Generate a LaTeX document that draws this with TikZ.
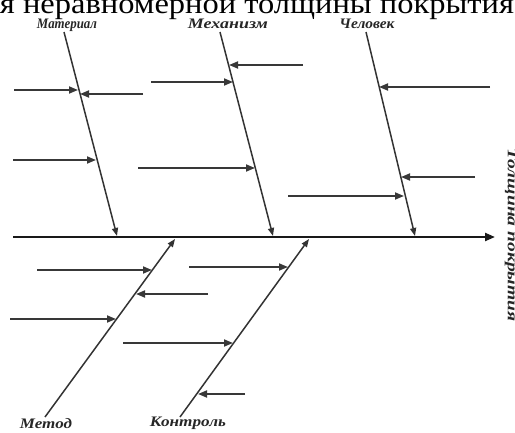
\documentclass[tikz,border=0pt]{standalone}
\usepackage{fontspec}
\setmainfont{Liberation Serif}
\usetikzlibrary{arrows.meta}
\newcommand{\lblw}[2]{\resizebox{#1}{\height}{#2}}
\begin{document}
\begin{tikzpicture}[x=1pt,y=-1pt,
  spine/.style={line width=2.2pt,draw=black!90,-{Triangle[length=10pt,width=8pt]}},
  cause/.style={line width=1.5pt,draw=black!80,-{Triangle[length=8pt,width=6pt]}},
  sub/.style={line width=1.7pt,draw=black!78,-{Triangle[length=9pt,width=7pt]}},
  lab/.style={font=\fontsize{14.5}{16}\selectfont\bfseries\itshape,inner sep=0pt,text=black!85}]
\useasboundingbox (0,0) rectangle (515,432);
% title (cut off at top)
\node[font=\fontsize{29}{32}\selectfont,anchor=base,inner sep=0pt] (title) at (257,13) {\lblw{514pt}{я неравномерной толщины покрытия}};
% effect label
\node[lab,rotate=-90,anchor=center] (eff) at (511,235) {\scalebox{1.35}[1]{Толщина покрытия}};
% spine
\coordinate (s0) at (13,237);
\coordinate (s1) at (495,237);
\draw[spine] (s0) -- (s1);
% category labels
\node[lab,anchor=base] (mat) at (67,28) {\lblw{60pt}{Материал}};
\node[lab,anchor=base] (mech) at (228,28) {\lblw{80pt}{Механизм}};
\node[lab,anchor=base] (man) at (367,28) {\lblw{55pt}{Человек}};
\node[lab,anchor=base] (met) at (46,428) {\lblw{52pt}{Метод}};
\node[lab,anchor=base] (ctl) at (188,426) {\lblw{76pt}{Контроль}};
% bones
\coordinate (matT) at (64,32);   \coordinate (matB) at (117,236);
\coordinate (mechT) at (220,32); \coordinate (mechB) at (273,236);
\coordinate (manT) at (366,32);  \coordinate (manB) at (415,236);
\coordinate (metB) at (45,417);  \coordinate (metT) at (175,239);
\coordinate (ctlB) at (180,417); \coordinate (ctlT) at (309,239);
\draw[cause] (matT) -- (matB);
\draw[cause] (mechT) -- (mechB);
\draw[cause] (manT) -- (manB);
\draw[cause] (metB) -- (metT);
\draw[cause] (ctlB) -- (ctlT);
% sub-cause arrows
\coordinate (a1s) at (14,90);   \coordinate (a1e) at (78,90);
\coordinate (a2s) at (143,94);  \coordinate (a2e) at (80,94);
\coordinate (a3s) at (13,160);  \coordinate (a3e) at (96,160);
\coordinate (a4s) at (151,82);  \coordinate (a4e) at (233,82);
\coordinate (a5s) at (303,65);  \coordinate (a5e) at (229,65);
\coordinate (a6s) at (138,168); \coordinate (a6e) at (255,168);
\coordinate (a7s) at (490,87);  \coordinate (a7e) at (379,87);
\coordinate (a8s) at (475,177); \coordinate (a8e) at (401,177);
\coordinate (a9s) at (288,196); \coordinate (a9e) at (404,196);
\coordinate (b1s) at (37,270);  \coordinate (b1e) at (152,270);
\coordinate (b2s) at (208,294); \coordinate (b2e) at (136,294);
\coordinate (b3s) at (10,319);  \coordinate (b3e) at (116,319);
\coordinate (b4s) at (189,267); \coordinate (b4e) at (288,267);
\coordinate (b5s) at (123,343); \coordinate (b5e) at (233,343);
\coordinate (b6s) at (245,394); \coordinate (b6e) at (198,394);
\foreach \a in {a1,a2,a3,a4,a5,a6,a7,a8,a9,b1,b2,b3,b4,b5,b6}
  \draw[sub] (\a s) -- (\a e);
\end{tikzpicture}
\end{document}
